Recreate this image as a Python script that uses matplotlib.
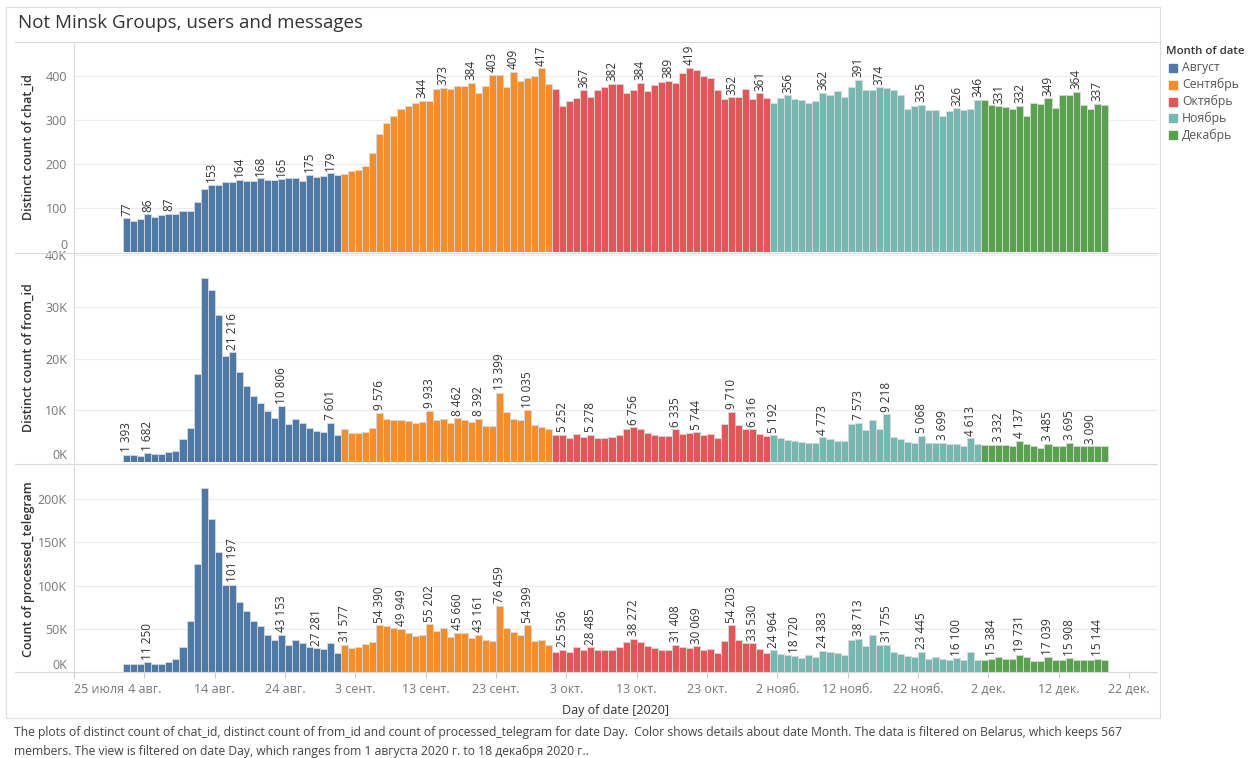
import matplotlib.pyplot as plt
from matplotlib.lines import Line2D
from matplotlib.patches import Rectangle

plt.rcParams['font.family'] = ['Open Sans', 'DejaVu Sans']

# days from 1 Aug 2020 to 18 Dec 2020
month_names = ['Август', 'Сентябрь', 'Октябрь', 'Ноябрь', 'Декабрь']
month_days = [31, 30, 31, 30, 18]
month_colors = ['#4e79a7', '#f28e2b', '#e15759', '#76b7b2', '#59a14f']

tick_labels = ['25 июля', '4 авг.', '14 авг.', '24 авг.', '3 сент.', '13 сент.', '23 сент.',
               '3 окт.', '13 окт.', '23 окт.', '2 нояб.', '12 нояб.', '22 нояб.',
               '2 дек.', '12 дек.', '22 дек.']
first_day_offset = 7  # 1 Aug is 7 days after 25 July

chat_ids = [
    77, 70, 75, 86, 80, 84, 87, 87, 92, 94, 113, 142, 153, 152, 158, 160, 164, 161, 162, 168,
    164, 164, 165, 167, 167, 162, 175, 170, 172, 179, 174,
    178, 183, 187, 196, 225, 268, 294, 308, 324, 332, 338, 344, 343, 370, 373, 370, 377, 376, 384, 361,
    376, 403, 403, 374, 409, 389, 395, 399, 417, 382,
    370, 332, 344, 350, 367, 353, 369, 375, 382, 382, 362, 367, 384, 365, 380, 387, 389, 385, 407, 419,
    413, 400, 396, 369, 347, 352, 352, 370, 347, 361, 350,
    338, 350, 356, 348, 346, 338, 344, 362, 356, 365, 352, 375, 391, 369, 369, 374, 372, 369, 357, 325,
    332, 335, 322, 322, 309, 320, 326, 323, 325, 346,
    345, 334, 331, 330, 324, 332, 310, 339, 337, 349, 328, 357, 357, 364, 334, 325, 337, 335,
]
from_ids = [
    1393, 1350, 1160, 1682, 1500, 1600, 1900, 2100, 4400, 6500, 17000, 35700, 33300, 28400, 20600,
    21216, 17400, 14800, 12700, 11400, 9900, 8500, 10806, 7400, 8400, 7600, 6600, 6000, 5800, 7601, 5300,
    6300, 5700, 5600, 5800, 6500, 9576, 8300, 8200, 8100, 7900, 7500, 7700, 9933, 8100, 8400,
    7600, 8462, 8100, 7700, 8392, 7000, 7000, 13399, 9700, 8300, 8100, 10035, 7100, 6800, 6300,
    5200, 5252, 4700, 5500, 4800, 5278, 4600, 4600, 4800, 5200, 6300, 6756, 6300, 5700, 5300,
    5000, 5000, 6335, 5500, 5700, 5744, 5200, 5400, 4600, 7400, 9710, 7100, 6400, 6316, 5400, 5000,
    5192, 4600, 4300, 4000, 3800, 3600, 3600, 4773, 4400, 4100, 4100, 7400, 7573, 6100, 8100,
    6300, 9218, 4900, 4500, 3900, 3600, 5068, 3700, 3700, 3699, 3400, 3500, 3100, 4613, 3400,
    3200, 3200, 3332, 3200, 3000, 4137, 3400, 3000, 2800, 3485, 3100, 3000, 3695, 3100, 3100, 3090, 3100, 3000,
]
telegrams = [
    8800, 9600, 8800, 11250, 9200, 9200, 11500, 15400, 28500, 58500, 125400, 213000, 177300, 138800,
    100400, 101197, 81500, 71200, 58500, 53500, 42300, 36500, 43153, 30800, 37300, 33100, 28500,
    27281, 26200, 33100, 21500,
    31577, 27300, 28500, 31900, 35000, 54390, 52700, 50400, 49949, 44600, 41900, 42700, 55202, 47700,
    51200, 40400, 45660, 44600, 39600, 43161, 36500, 35400, 76459, 51200, 45800, 42300, 54399, 36200, 37300, 31200,
    23500, 25536, 23500, 28500, 25800, 28485, 25000, 25000, 25000, 28500, 35000, 38272, 34200, 30000,
    27300, 25000, 25000, 31408, 29200, 28100, 30069, 25400, 26900, 21900, 36200, 54203, 36500, 33100, 33530, 26500, 22300,
    24964, 21200, 19600, 18720, 16500, 19600, 16900, 24383, 23100, 21900, 19600, 36500, 38713, 30400,
    43100, 31200, 31755, 22700, 21200, 18500, 16900, 23445, 15400, 17300, 15400, 13800, 16100, 13800, 22700, 14200,
    14200, 15384, 16900, 15400, 15400, 19731, 16900, 12300, 13100, 17039, 14200, 13500, 15908, 13500,
    14200, 14200, 15144, 13800,
]

# which days carry a value label
chat_labels = [0, 3, 6, 12, 16, 19, 22, 26, 29, 42, 45, 49, 52, 55, 59, 65, 69, 73, 77, 80, 86, 90,
               94, 99, 104, 107, 113, 118, 121, 124, 127, 131, 135, 138]
from_labels = [0, 3, 15, 22, 29, 36, 43, 47, 50, 53, 57, 62, 66, 72, 78, 81, 86, 89,
               92, 99, 104, 108, 113, 116, 120, 124, 127, 131, 134, 137]
tele_labels = [3, 15, 22, 27, 31, 36, 39, 43, 47, 50, 53, 57, 62, 66, 72, 78, 81, 86, 89,
               92, 95, 99, 104, 108, 113, 118, 123, 127, 131, 134, 138]

colors = []
for m in range(len(month_days)):
    colors += [month_colors[m]] * month_days[m]
x = [first_day_offset + i for i in range(len(chat_ids))]

W, H = 1248, 758
fig = plt.figure(figsize=(W / 100, H / 100), dpi=100)

def fx(px):
    return px / W

def fy(py):
    return 1 - py / H

panels = [
    (chat_ids, chat_labels, 42, 252, 477, [0, 100, 200, 300, 400], ['0', '100', '200', '300', '400'],
     'Distinct count of chat_id'),
    (from_ids, from_labels, 254, 462, 40250, [0, 10000, 20000, 30000, 40000], ['0K', '10K', '20K', '30K', '40K'],
     'Distinct count of from_id'),
    (telegrams, tele_labels, 466, 672, 238500, [0, 50000, 100000, 150000, 200000],
     ['0K', '50K', '100K', '150K', '200K'], 'Count of processed_telegram'),
]

left, right = 74, 1157
axes = []
for vals, labs, top, bot, ymax, yt, ytl, ylab in panels:
    ax = fig.add_axes([fx(left), fy(bot), fx(right - left), (bot - top) / H])
    ax.bar(x, vals, width=1, align='edge', color=colors, edgecolor='#d8d8d8', linewidth=0.6, zorder=2)
    for i in labs:
        v = vals[i]
        ax.text(x[i] + 0.5, v + ymax * 0.012, f'{v:,}'.replace(',', ' '), rotation=90,
                ha='center', va='bottom', fontsize=8.5, color='#333333', zorder=3)
    ax.set_xlim(0, 154)
    ax.set_ylim(0, ymax)
    ax.set_yticks(yt)
    ax.set_yticklabels(ytl)
    ax.yaxis.grid(True, color='#ececec', linewidth=0.8, zorder=0)
    ax.tick_params(axis='y', length=0, pad=5, labelsize=9, labelcolor='#777777')
    ax.get_yticklabels()[0].set_va('bottom')
    for s in ['top', 'right', 'bottom']:
        ax.spines[s].set_visible(False)
    ax.spines['left'].set_color('#d9d9d9')
    ax.set_ylabel(ylab, fontsize=9, color='#333333', fontweight='semibold')
    ax.yaxis.set_label_coords(fx(35 - left) / fx(right - left), 0.5)
    axes.append(ax)

for ax in axes[:2]:
    ax.set_xticks([])
bx = axes[2]
bx.set_xticks(range(0, 151, 10))
bx.set_xticklabels(tick_labels)
bx.get_xticklabels()[0].set_ha('left')
bx.tick_params(axis='x', length=4, color='#cccccc', labelsize=9, labelcolor='#777777', pad=4)
bx.set_xlabel('Day of date [2020]', fontsize=9, color='#333333', labelpad=6)

# frame and separators
fig.add_artist(Rectangle((fx(6), fy(718)), fx(1160 - 6), (718 - 7) / H, transform=fig.transFigure,
                         fill=False, edgecolor='#dddddd', linewidth=0.8))
for py in [42, 253, 464, 672]:
    fig.add_artist(Line2D([fx(15), fx(right)], [fy(py), fy(py)], transform=fig.transFigure,
                          color='#d9d9d9', linewidth=0.8))

fig.text(fx(18), fy(23), 'Not Minsk Groups, users and messages', fontsize=13.5, color='#333333',
         va='center', ha='left')

# legend
fig.text(fx(1166), fy(52), 'Month of date', fontsize=8.2, fontweight='semibold', color='#333333',
         va='center', ha='left')
for k, name in enumerate(month_names):
    yy = 68 + k * 16.8
    fig.add_artist(Rectangle((fx(1169), fy(yy + 4)), fx(8), 8 / H, transform=fig.transFigure,
                             color=month_colors[k]))
    fig.text(fx(1182), fy(yy), name, fontsize=8.8, color='#555555', va='center', ha='left')

footer = ('The plots of distinct count of chat_id, distinct count of from_id and count of processed_telegram '
          'for date Day.  Color shows details about date Month. The data is filtered on Belarus, which keeps 567\n'
          'members. The view is filtered on date Day, which ranges from 1 августа 2020 г. to 18 декабря 2020 г..')
fig.text(fx(14), fy(726), footer, fontsize=8.7, color='#444444', va='top', ha='left', linespacing=1.5)

fig.savefig('out.png', dpi=100)
